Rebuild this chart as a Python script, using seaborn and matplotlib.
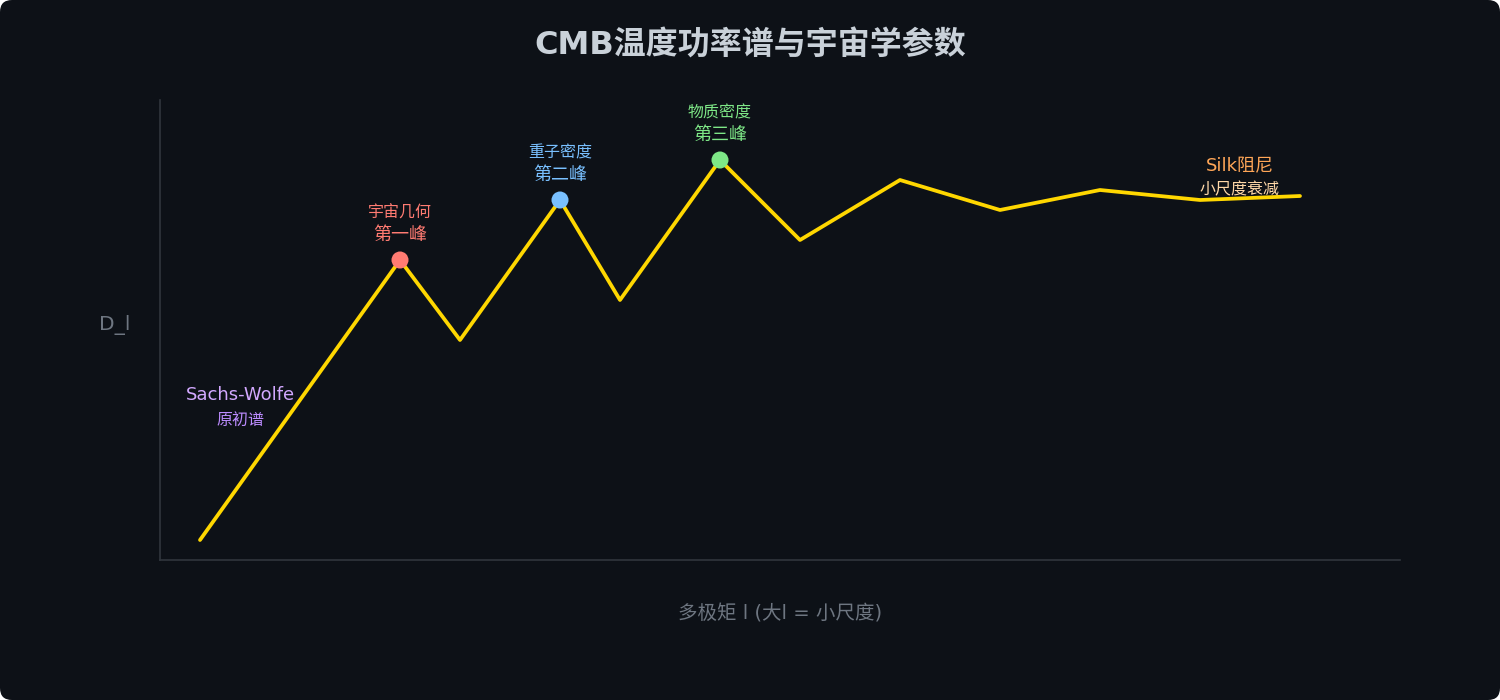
import pandas as pd
import matplotlib.pyplot as plt
import seaborn as sns
from matplotlib.patches import FancyBboxPatch

# multipole positions and power values (arbitrary units)
ell = [40, 240, 300, 400, 460, 560, 640, 740, 840, 940, 1040, 1140]
dl = [20, 300, 220, 360, 260, 400, 320, 380, 350, 370, 360, 364]

peak_ell = [240, 400, 560]
peak_dl = [300, 360, 400]
peak_colors = ['#ff7b72', '#79c0ff', '#7ee787']
peak_top = ['宇宙几何', '重子密度', '物质密度']
peak_bottom = ['第一峰', '第二峰', '第三峰']

bg = '#0d1117'

sns.set_style('dark')
plt.rcParams['font.family'] = ['DejaVu Sans', 'Noto Sans CJK SC']

fig = plt.figure(figsize=(15, 7), dpi=100, facecolor='white')
fig.patches.append(FancyBboxPatch((0, 0), 1500, 700,
                                  boxstyle='round,pad=0,rounding_size=12',
                                  transform=None, facecolor=bg, edgecolor='none',
                                  zorder=-10))
ax = fig.add_axes([160 / 1500, 1 - 560 / 700, 1240 / 1500, 460 / 700])
ax.set_facecolor(bg)

df = pd.DataFrame({'ell': ell, 'dl': dl})
sns.lineplot(data=df, x='ell', y='dl', color='#FFD700', linewidth=2.7, ax=ax)

peaks = pd.DataFrame({'ell': peak_ell, 'dl': peak_dl, 'c': peak_colors})
sns.scatterplot(data=peaks, x='ell', y='dl', hue='c', palette=peak_colors,
                s=150, edgecolor='none', legend=False, ax=ax, zorder=5)

for x, y, c, t1, t2 in zip(peak_ell, peak_dl, peak_colors, peak_top, peak_bottom):
    ax.annotate(t1, (x, y), xytext=(0, 47), textcoords='offset pixels',
                ha='center', va='center', color=c, fontsize=11.5)
    ax.annotate(t2, (x, y), xytext=(0, 25), textcoords='offset pixels',
                ha='center', va='center', color=c, fontsize=13)

ax.text(80, 165, 'Sachs-Wolfe', ha='center', va='center', color='#d2a8ff', fontsize=13)
ax.text(80, 140, '原初谱', ha='center', va='center', color='#bc8cff', fontsize=11.5)
ax.text(1080, 394, 'Silk阻尼', ha='center', va='center', color='#ffa657', fontsize=13)
ax.text(1080, 370, '小尺度衰减', ha='center', va='center', color='#ffd8a8', fontsize=11.5)

ax.set_xlim(0, 1240)
ax.set_ylim(0, 460)
ax.set_xticks([])
ax.set_yticks([])
ax.set_xlabel('')
ax.set_ylabel('')
ax.grid(False)
for s in ['top', 'right']:
    ax.spines[s].set_visible(False)
for s in ['left', 'bottom']:
    ax.spines[s].set_visible(True)
    ax.spines[s].set_color('#30363d')
    ax.spines[s].set_linewidth(1.2)

fig.text(0.5, 1 - 46 / 700, 'CMB温度功率谱与宇宙学参数', ha='center', va='center',
         color='#c9d1d9', fontsize=23, fontweight='bold')
fig.text(115 / 1500, 1 - 325 / 700, 'D_l', ha='center', va='center',
         color='#6e7681', fontsize=14.5)
fig.text(780 / 1500, 1 - 614 / 700, '多极矩 l (大l = 小尺度)', ha='center', va='center',
         color='#6e7681', fontsize=14)

fig.savefig('out.png', dpi=100, facecolor='white')
